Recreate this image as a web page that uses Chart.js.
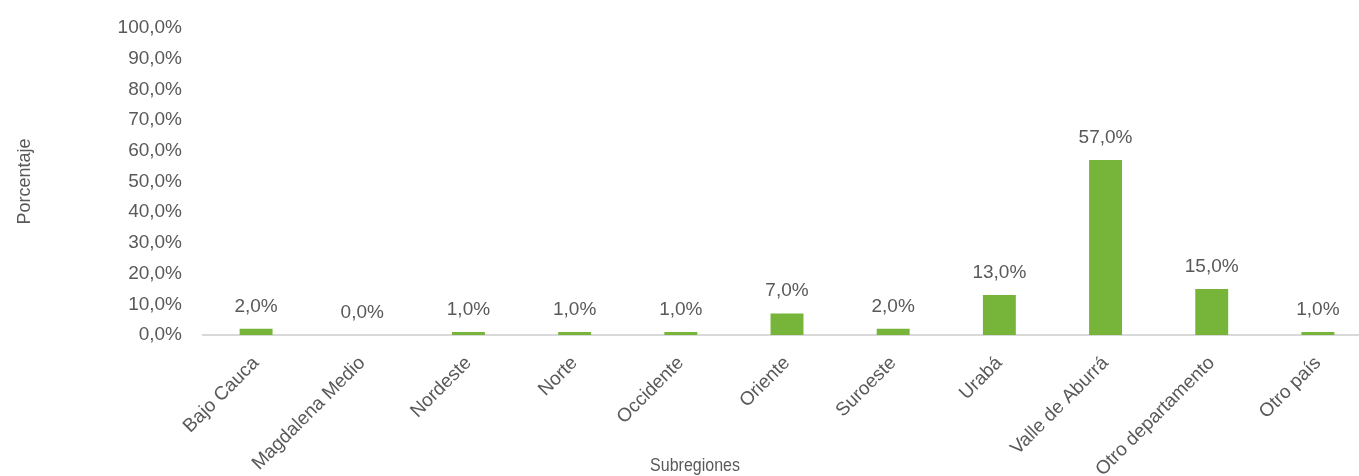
<!DOCTYPE html>
<html>
<head>
<meta charset="utf-8">
<script src="https://cdn.jsdelivr.net/npm/chart.js@4"></script>
<style>
  html, body { margin: 0; padding: 0; background: #fff; overflow: hidden; }
  #wrap { width: 1371px; height: 476px; }
</style>
</head>
<body>
<div id="wrap"><canvas id="chart" width="1371" height="476"></canvas></div>
<script>
  // datos
  const subregiones = ["Bajo Cauca", "Magdalena Medio", "Nordeste", "Norte", "Occidente", "Oriente", "Suroeste", "Urabá", "Valle de Aburrá", "Otro departamento", "Otro país"];
  const porcentajes = [2, 0, 1, 1, 1, 7, 2, 13, 57, 15, 1];
  const yTicks = [0, 10, 20, 30, 40, 50, 60, 70, 80, 90, 100];

  const textColor = "#595959";
  const fontFamily = "'Liberation Sans', Arial, sans-serif";

  const fmt = v => v.toFixed(1).replace(".", ",") + "%";

  // etiquetas de datos encima de las barras
  const dataLabels = {
    id: "dataLabels",
    afterDatasetsDraw(chart) {
      const ctx = chart.ctx;
      const meta = chart.getDatasetMeta(0);
      ctx.save();
      ctx.font = "19px " + fontFamily;
      ctx.fillStyle = textColor;
      ctx.textAlign = "center";
      ctx.textBaseline = "bottom";
      meta.data.forEach((bar, i) => {
        ctx.fillText(fmt(porcentajes[i]), bar.x, bar.y - 13);
      });
      ctx.restore();
    }
  };

  // título del eje x
  const xTitle = {
    id: "xTitle",
    afterDraw(chart) {
      const ctx = chart.ctx;
      ctx.save();
      ctx.font = "16px " + fontFamily;
      ctx.fillStyle = textColor;
      ctx.textAlign = "center";
      ctx.textBaseline = "middle";
      ctx.translate(695, 466);
      ctx.scale(1, 1.2);
      ctx.fillText("Subregiones", 0, 0);
      ctx.restore();
    }
  };

  new Chart(document.getElementById("chart"), {
    type: "bar",
    data: {
      labels: subregiones,
      datasets: [{
        data: porcentajes,
        backgroundColor: "#76B43A",
        barPercentage: 0.62,
        categoryPercentage: 0.5
      }]
    },
    options: {
      responsive: false,
      animation: false,
      layout: { padding: { top: 28, right: 0, bottom: 0, left: 0 } },
      plugins: {
        legend: { display: false },
        tooltip: { enabled: false }
      },
      scales: {
        x: {
          grid: { display: false, drawTicks: false },
          border: { display: true, color: "#D9D9D9", width: 2 },
          ticks: {
            color: textColor,
            font: { family: fontFamily, size: 19 },
            minRotation: 45,
            maxRotation: 45,
            padding: 17
          },
          afterFit(scale) { scale.height = 141; }
        },
        y: {
          min: 0,
          max: 100,
          afterBuildTicks(scale) { scale.ticks = yTicks.map(v => ({ value: v })); },
          grid: { display: false, drawTicks: false },
          border: { display: false },
          ticks: {
            color: textColor,
            font: { family: fontFamily, size: 19 },
            padding: 21,
            callback: v => fmt(v)
          },
          title: {
            display: true,
            text: "Porcentaje",
            color: textColor,
            font: { family: fontFamily, size: 18 },
            padding: { top: 14, bottom: 0 }
          },
          afterFit(scale) {
            scale.width = 203;
            scale.paddingTop = 0;
            scale.paddingBottom = 0;
          }
        }
      }
    },
    plugins: [dataLabels, xTitle]
  });
</script>
</body>
</html>
